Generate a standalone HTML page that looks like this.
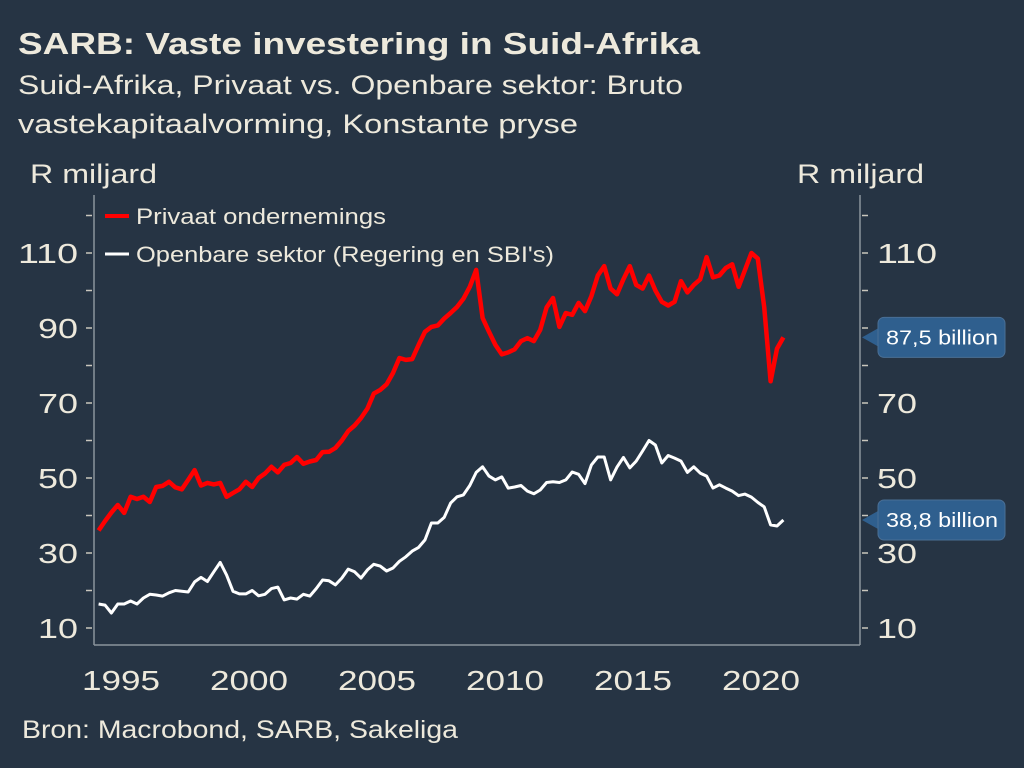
<!DOCTYPE html>
<html><head><meta charset="utf-8"><style>
body{margin:0;background:#263444;}
svg{display:block;font-family:"Liberation Sans",sans-serif;}
</style></head><body>
<svg width="1024" height="768" viewBox="0 0 1024 768">
<rect width="1024" height="768" fill="#263444"/>
<text x="18" y="54" font-size="31" font-weight="bold" fill="#ede9dc" textLength="682" lengthAdjust="spacingAndGlyphs">SARB: Vaste investering in Suid-Afrika</text>
<text x="18" y="94" font-size="27" fill="#ede9dc" textLength="665" lengthAdjust="spacingAndGlyphs">Suid-Afrika, Privaat vs. Openbare sektor: Bruto</text>
<text x="18" y="133" font-size="27" fill="#ede9dc" textLength="560" lengthAdjust="spacingAndGlyphs">vastekapitaalvorming, Konstante pryse</text>
<text x="30" y="183" font-size="27" fill="#ede9dc" textLength="127" lengthAdjust="spacingAndGlyphs">R miljard</text>
<text x="797" y="183" font-size="27" fill="#ede9dc" textLength="127" lengthAdjust="spacingAndGlyphs">R miljard</text>
<text x="22" y="738" font-size="25" fill="#ede9dc" textLength="436" lengthAdjust="spacingAndGlyphs">Bron: Macrobond, SARB, Sakeliga</text>
<g id="axes"></g>
<g id="series"></g>
<g>
<line x1="105" y1="216" x2="129" y2="216" stroke="#ff0000" stroke-width="4"/>
<text x="136" y="224" font-size="22" fill="#ede9dc" textLength="250" lengthAdjust="spacingAndGlyphs">Privaat ondernemings</text>
<line x1="105" y1="254" x2="129" y2="254" stroke="#ffffff" stroke-width="3"/>
<text x="136" y="262" font-size="22" fill="#ede9dc" textLength="418" lengthAdjust="spacingAndGlyphs">Openbare sektor (Regering en SBI's)</text>
</g>
<g id="badges"></g>
</svg>
<script>
const years=[1995,2000,2005,2010,2015,2020];
const yTicks=[10,30,50,70,90,110];
const startYear=1994.125;
const privateValues=[36,38.5,40.8,42.8,40.7,45,44.4,45,43.6,47.6,47.9,49,47.5,47,49.5,52.1,48,48.7,48.3,48.7,45,46,47,49,47.6,50,51.2,53,51.5,53.5,54,55.6,53.8,54.4,54.8,56.9,57,58,60,62.5,64,66,68.5,72.5,73.5,75,78,82,81.5,81.7,85.5,89,90.3,90.7,92.5,94,95.6,97.8,101,105.5,92.7,89,85.5,83,83.5,84.3,86.5,87.3,86.5,89.5,95.5,98,90.3,94,93.5,96.7,94.5,98.5,104,106.5,100.5,99,103,106.5,101.5,100.5,104,100,97,96,97,102.5,99.5,101.5,103,108.9,103.5,104,106,107,101,105.5,110,108.5,95.6,75.8,84.5,87.5];
const publicValues=[16.4,16.1,14,16.4,16.4,17.2,16.4,18,19,18.8,18.5,19.4,20,19.8,19.6,22.3,23.5,22.4,25,27.5,24.1,19.8,19.1,19.1,20,18.6,19,20.5,20.9,17.5,18,17.7,19,18.5,20.5,22.8,22.6,21.5,23.3,25.7,25,23.3,25.5,27,26.5,25.2,26,27.8,29,30.5,31.5,33.5,38,38,39.5,43.3,45,45.5,48,51.5,53,50.5,49.5,50.3,47.3,47.6,48,46.5,45.8,46.8,48.8,49,48.8,49.5,51.6,51,48.5,53.5,55.6,55.6,49.5,52.9,55.5,52.7,54.5,57.2,60,58.8,54,56,55.3,54.5,51.5,53,51.3,50.5,47.3,48.2,47.3,46.5,45.3,45.7,44.9,43.5,42.3,37.5,37.2,38.8];
const badgeLabels=["87,5 billion","38,8 billion"];
const NS="http://www.w3.org/2000/svg";
const X=t=>121+(t-1995)*25.6;
const Y=v=>628-(v-10)*3.75;
const L=94,R=860,T=195,B=645;
function mk(tag,attrs,parent){const e=document.createElementNS(NS,tag);for(const k in attrs)e.setAttribute(k,attrs[k]);parent.appendChild(e);return e;}
const ax=document.getElementById('axes');
let e;
e=mk('line',{x1:L,y1:T,x2:L,y2:B,stroke:'#8a939c','stroke-width':1.5},ax);


e=mk('line',{x1:R,y1:T,x2:R,y2:B,stroke:'#8a939c','stroke-width':1.5},ax);


e=mk('line',{x1:L,y1:B,x2:R,y2:B,stroke:'#8a939c','stroke-width':1.5},ax);


for(let v=10;v<=120;v+=10){
 const y=Y(v);
 e=mk('line',{x1:L-8,y1:y,x2:L-2,y2:y,stroke:'#c9c6bd','stroke-width':1.5},ax);
 
 
 e=mk('line',{x1:R+2,y1:y,x2:R+8,y2:y,stroke:'#c9c6bd','stroke-width':1.5},ax);
 
 
}
yTicks.forEach(v=>{
 const w=String(v).length*20;
 e=mk('text',{x:78,y:Y(v)+10,'font-size':28,fill:'#ede9dc','text-anchor':'end',textLength:w,lengthAdjust:'spacingAndGlyphs'},ax);e.textContent=v;
 
 
 e=mk('text',{x:877,y:Y(v)+10,'font-size':28,fill:'#ede9dc',textLength:w,lengthAdjust:'spacingAndGlyphs'},ax);e.textContent=v;
 
 
});
years.forEach(yr=>{
 e=mk('text',{x:X(yr)-39,y:690,'font-size':28,fill:'#ede9dc',textLength:78,lengthAdjust:'spacingAndGlyphs'},ax);e.textContent=yr;
 
 
});
const sg=document.getElementById('series');
function pts(arr){return arr.map((v,i)=>X(startYear+i*0.25).toFixed(1)+','+Y(v).toFixed(1)).join(' ');}
e=mk('polyline',{points:pts(publicValues),fill:'none',stroke:'#ffffff','stroke-width':3,'stroke-linejoin':'round'},sg);


e=mk('polyline',{points:pts(privateValues),fill:'none',stroke:'#ff0000','stroke-width':4.5,'stroke-linejoin':'round'},sg);


const bg=document.getElementById('badges');
[[privateValues[privateValues.length-1],badgeLabels[0],'badge-private-last'],[publicValues[publicValues.length-1],badgeLabels[1],'badge-public-last']].forEach(([v,lab,name])=>{
 const y=Y(v);
 const g=mk('g',{},bg);
 
 
 mk('path',{d:`M${R+2},${y} L${R+18},${y-9} L${R+18},${y+9} Z`,fill:'#2f5f8e'},g);
 mk('rect',{x:R+18,y:y-20,width:127,height:40,rx:6,fill:'#2f5f8e',stroke:'#4a6f95'},g);
 const t=mk('text',{x:R+26,y:y+7,'font-size':20,fill:'#ffffff',textLength:112,lengthAdjust:'spacingAndGlyphs'},g);t.textContent=lab;
});
</script>
</body></html>
